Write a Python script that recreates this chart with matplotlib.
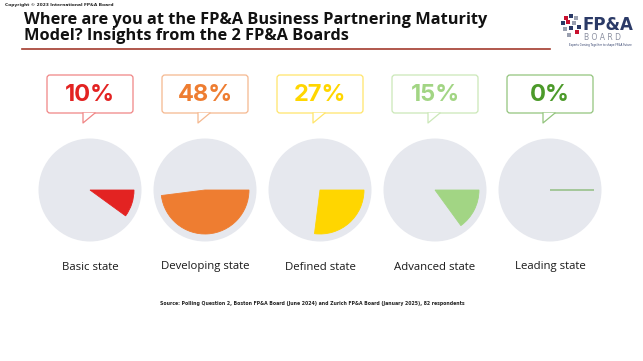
import matplotlib.pyplot as plt
from matplotlib.patches import FancyBboxPatch, Polygon
from matplotlib.lines import Line2D

# Data
states = ['Basic state', 'Developing state', 'Defined state', 'Advanced state', 'Leading state']
shares = [10, 48, 27, 15, 0]
colors = ['#E32322', '#EE7D31', '#FFD600', '#A2D584', '#4C9A2A']
edge_colors = ['#F08585', '#F5B88F', '#FFE56A', '#CBE8B8', '#93C47D']
title_lines = ['Where are you at the FP&A Business Partnering Maturity',
               'Model? Insights from the 2 FP&A Boards']

W, H = 643, 361
fig = plt.figure(figsize=(W / 100, H / 100), dpi=100)
ax = fig.add_axes([0, 0, 1, 1])

centers_x = [90, 205, 320, 435, 550]
cy = 190
r_bg = 51.5
r_val = 44

for i, (state, v, c, ec) in enumerate(zip(states, shares, colors, edge_colors)):
    cx = centers_x[i]
    # grey background disc
    ax.pie([1], radius=r_bg, center=(cx, cy), colors=['#E6E8EE'],
           frame=True, wedgeprops={'linewidth': 0})
    # value wedge (y axis is inverted, so counterclock draws clockwise on screen)
    wedges, _ = ax.pie([v, 100 - v], radius=r_val, center=(cx, cy),
                       colors=[c, 'none'], startangle=0, counterclock=True,
                       frame=True, wedgeprops={'linewidth': 0})
    wedges[0].set_edgecolor(c)
    wedges[0].set_linewidth(0.6)

    # speech bubble
    bx0, by0, bw, bh = cx - 43, 75, 86, 38
    box = FancyBboxPatch((bx0, by0), bw, bh, boxstyle='round,pad=0,rounding_size=3',
                         facecolor='white', edgecolor=ec, linewidth=0.9, zorder=3)
    ax.add_patch(box)
    tx = [cx - 7, cx - 7, cx + 5]
    ty = [by0 + bh, by0 + bh + 10, by0 + bh]
    ax.add_patch(Polygon(list(zip(tx, ty)), closed=True, facecolor='white',
                         edgecolor='none', zorder=4))
    ax.add_line(Line2D(tx, ty, color=ec, linewidth=0.9, zorder=5))
    ax.text(cx, by0 + bh / 2 + 1, f'{v}%', ha='center', va='center', fontsize=17,
            fontweight='bold', color=c, family='Inter', zorder=6)

    ax.text(cx, 267, state, ha='center', va='center', fontsize=8.2,
            color='#1A1A1A', family='Open Sans')

# title and decorations
for line, base in zip(title_lines, [24.5, 39.5]):
    ax.text(24, base, line, ha='left', va='baseline', fontsize=11.8,
            fontweight='bold', color='#111111', family='Open Sans')
ax.plot([22, 550], [48.5, 48.5], color='#A33B2E', linewidth=1.2)
ax.text(5, 5, 'Copyright © 2023 International FP&A Board', ha='left', va='center',
        fontsize=3.2, fontweight='bold', color='#222222')
ax.text(312, 304, 'Source: Polling Question 2, Boston FP&A Board (June 2024) and Zurich '
        'FP&A Board (January 2025), 82 respondents', ha='center', va='center',
        fontsize=3.3, fontweight='bold', color='#222222')

# logo
ax.text(583, 25, 'FP&A', ha='left', va='center', fontsize=12, fontweight='bold',
        color='#2B3A67', family='DejaVu Sans')
ax.text(584, 37, 'B O A R D', ha='left', va='center', fontsize=5.5,
        color='#8A8FA0', family='DejaVu Sans')
ax.text(600, 45, 'Experts Coming Together to shape FP&A Future', ha='center',
        va='center', fontsize=1.9, color='#2B3A67')
logo_x = [566, 571, 576, 563, 568, 574, 579, 565, 571, 577, 569]
logo_y = [18, 16, 18, 23, 22, 23, 27, 29, 28, 32, 35]
logo_c = ['#C8102E', '#2B3A67', '#9AA0B0', '#2B3A67', '#C8102E', '#9AA0B0',
          '#2B3A67', '#9AA0B0', '#2B3A67', '#C8102E', '#9AA0B0']
ax.scatter(logo_x, logo_y, s=5, c=logo_c, marker='s', linewidths=0)

ax.set_xlim(0, W)
ax.set_ylim(H, 0)
ax.set_aspect('equal')
ax.axis('off')

fig.savefig('out.png', dpi=100, facecolor='white')
